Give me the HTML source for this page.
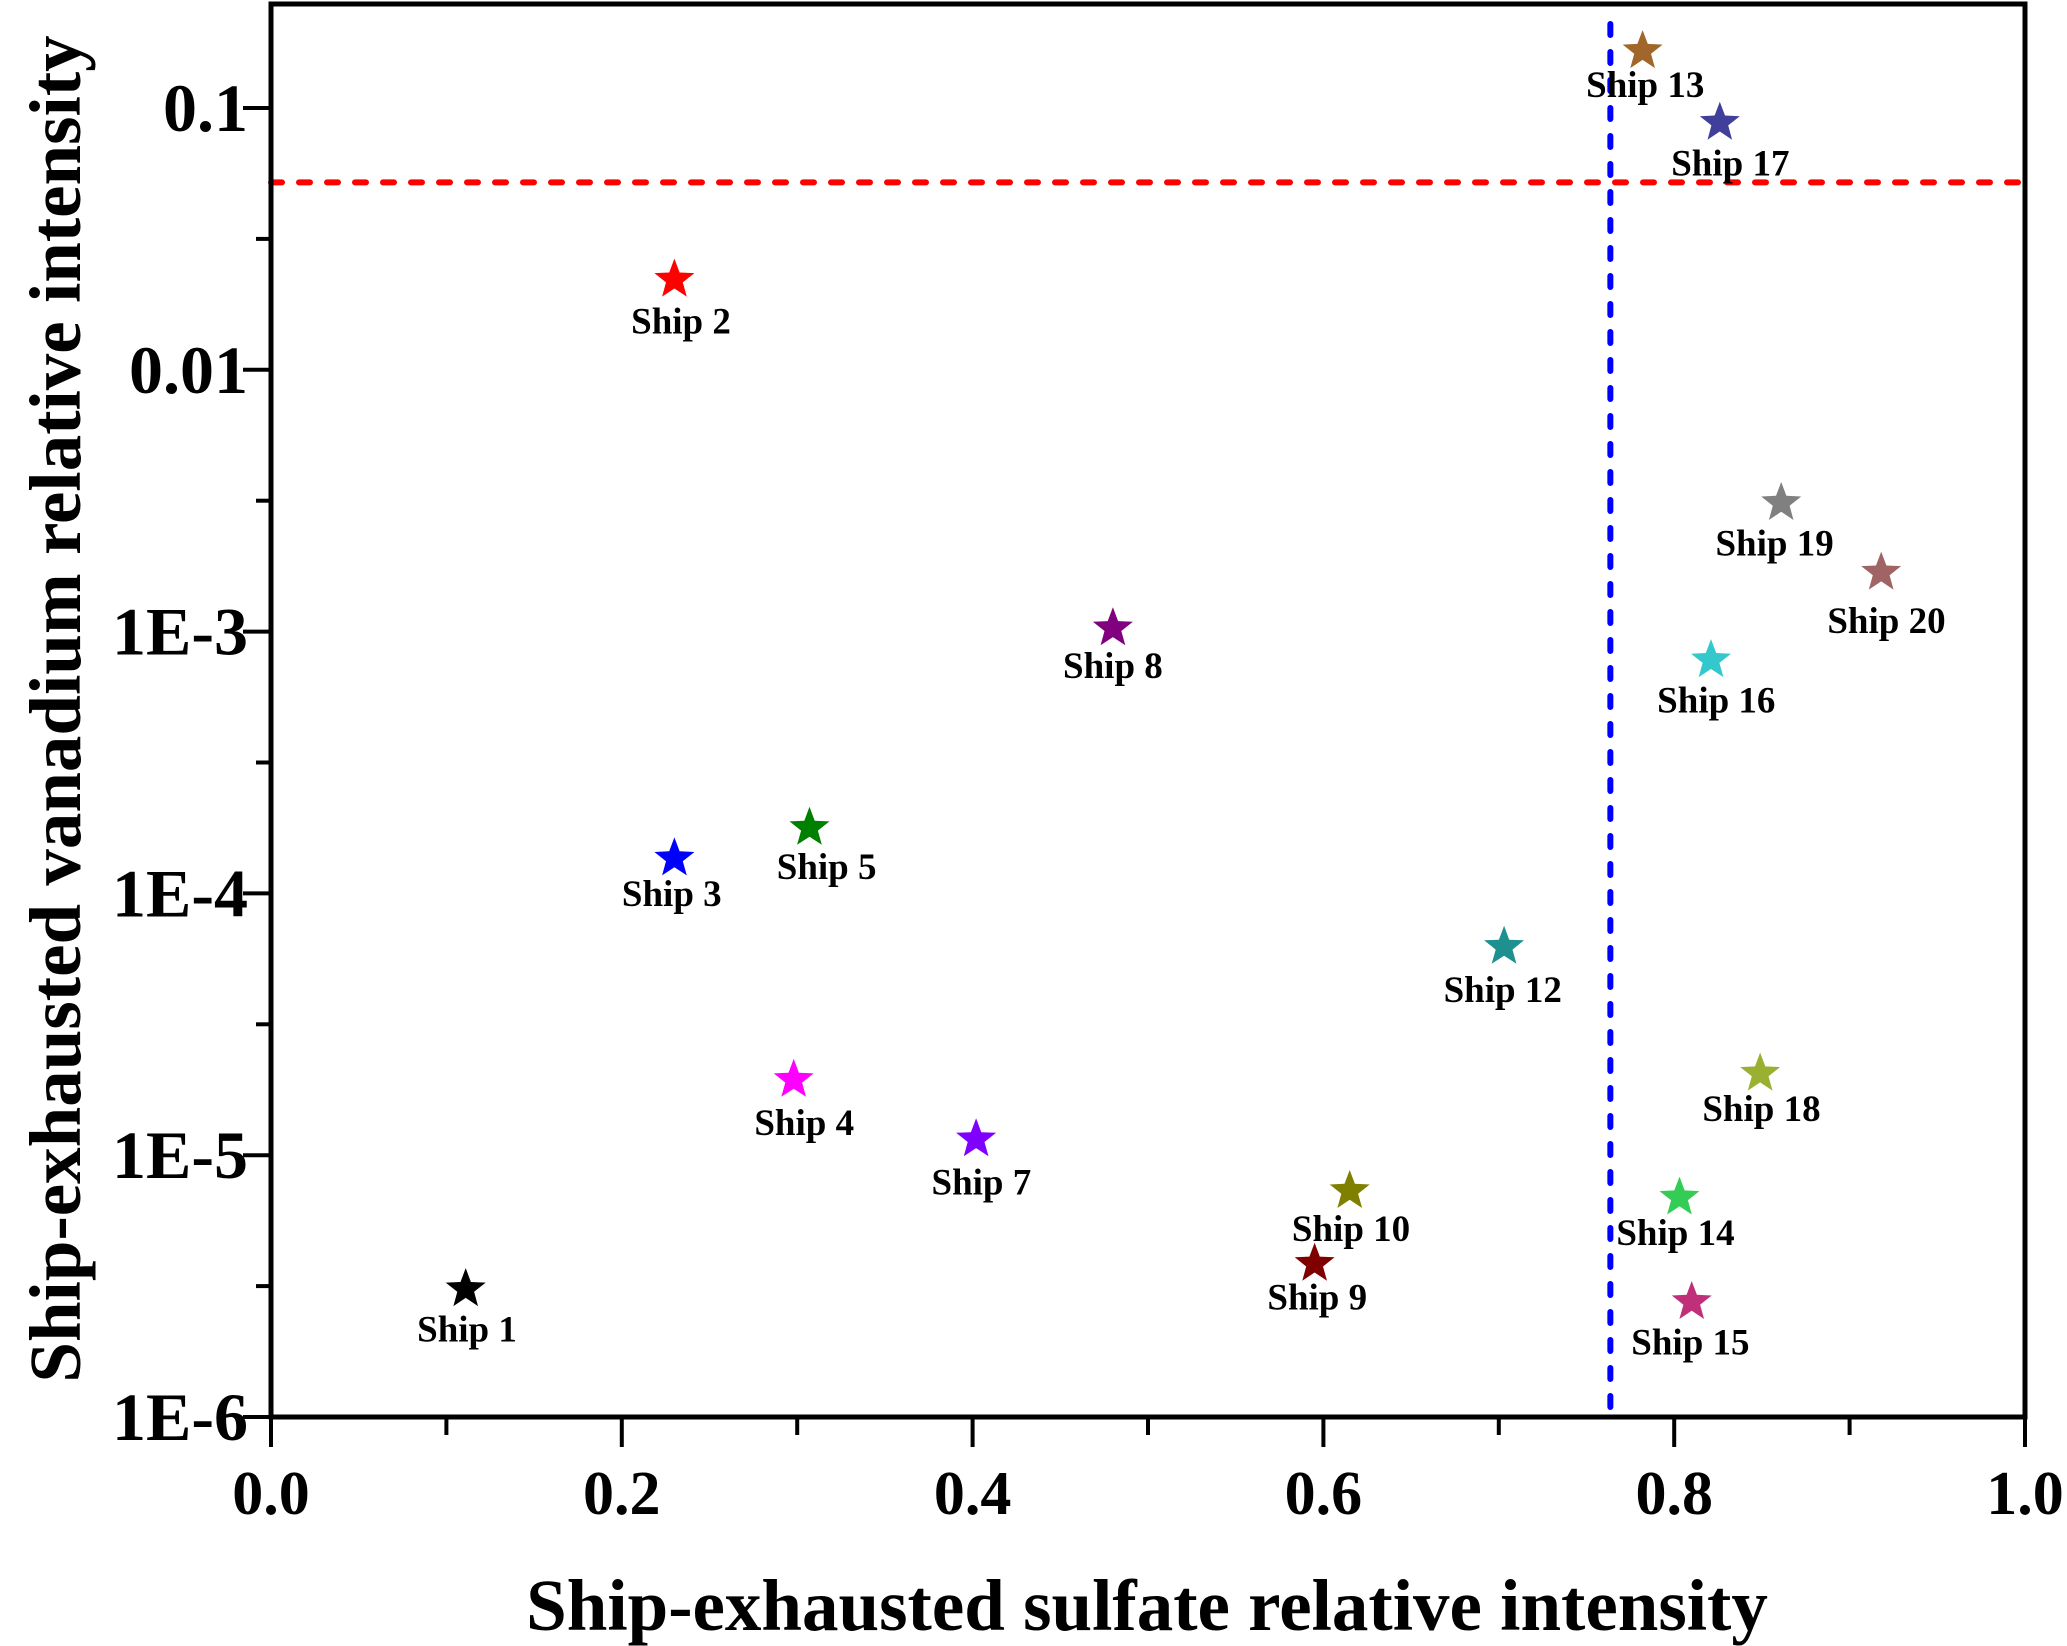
<!DOCTYPE html>
<html><head><meta charset="utf-8"><style>
html,body{margin:0;padding:0;background:#fff;}
svg{display:block;font-family:"Liberation Serif",serif;font-weight:bold;}
</style></head><body>
<svg id="chart" width="2067" height="1646" viewBox="0 0 2067 1646" xmlns="http://www.w3.org/2000/svg">
<g id="grid"></g>
<g id="marks"></g>
<g id="axes"></g>
<text x="1147" y="1630" text-anchor="middle" font-size="73">Ship-exhausted sulfate relative intensity</text>
<text transform="translate(80,709) rotate(-90)" text-anchor="middle" font-size="73">Ship-exhausted vanadium relative intensity</text>
</svg>
<script>
const names = ["Ship 1","Ship 2","Ship 3","Ship 4","Ship 5","Ship 7","Ship 8","Ship 9","Ship 10","Ship 12","Ship 13","Ship 14","Ship 15","Ship 16","Ship 17","Ship 18","Ship 19","Ship 20"];
const sulfate = [0.111,0.230,0.230,0.298,0.307,0.402,0.480,0.595,0.615,0.703,0.782,0.803,0.810,0.821,0.826,0.849,0.861,0.918];
const vanadium = [3.08e-6,0.0221,1.36e-4,1.94e-5,1.78e-4,1.15e-5,1.03e-3,3.85e-6,7.30e-6,6.25e-5,0.165,6.89e-6,2.75e-6,7.78e-4,0.0879,2.05e-5,3.10e-3,1.68e-3];
const colors = ["#000000","#ff0000","#0000ff","#ff00ff","#008000","#8000ff","#800080","#800000","#808000","#1f9090","#a0662a","#33cc55","#c0307a","#33c8cc","#40409a","#99b030","#808080","#a06464"];
const labelDx = [1,5,-2,8,13,4,0,2,1,-1,2,-3,-1,4,8,1,-5,4];
const labelDy = [30,31,26,32,29,32,28,25,28,32,25,26,30,30,30,26,30,36];
const xTicks = [0,0.2,0.4,0.6,0.8,1.0];
const xTickLabels = ["0.0","0.2","0.4","0.6","0.8","1.0"];
const yTicks = [1e-6,1e-5,1e-4,1e-3,0.01,0.1];
const yTickLabels = ["1E-6","1E-5","1E-4","1E-3","0.01","0.1"];
const sulfateThreshold = 0.7636;
const vanadiumThreshold = 0.052;

const L=271,R=2025,T=4,B=1417;
const yMinLog=-6, decade=261.8;
const sx = v => L + v*(R-L);
const sy = v => B - (Math.log10(v)-yMinLog)*decade;
const NS="http://www.w3.org/2000/svg";
function mk(tag, attrs, parent){const e=document.createElementNS(NS,tag);for(const k in attrs)e.setAttribute(k,attrs[k]);parent.appendChild(e);return e;}
const marks=document.getElementById('marks'), axes=document.getElementById('axes'), grid=document.getElementById('grid');

let hl=mk('line',{x1:L,x2:R,y1:sy(vanadiumThreshold),y2:sy(vanadiumThreshold),stroke:'#ff0000','stroke-width':6,'stroke-dasharray':'11 17','stroke-linecap':'round'},grid);


let vl=mk('line',{x1:sx(sulfateThreshold),x2:sx(sulfateThreshold),y1:T+20,y2:B-5,stroke:'#0000ff','stroke-width':6,'stroke-dasharray':'11 17','stroke-linecap':'round'},grid);



function star(cx,cy,r){const pts=[];for(let i=0;i<10;i++){const a=-Math.PI/2+i*Math.PI/5;const rr=i%2?r*0.42:r;pts.push((cx+rr*Math.cos(a)).toFixed(1)+','+(cy+rr*Math.sin(a)).toFixed(1));}return pts.join(' ');}
names.forEach((n,i)=>{
  const cx=sx(sulfate[i]), cy=sy(vanadium[i]);
  const p=mk('polygon',{points:star(cx,cy,21),fill:colors[i]},marks);
  
  
  const t=mk('text',{x:cx+labelDx[i]*1.32,y:cy+labelDy[i]*1.32+13,'text-anchor':'middle','font-size':37,fill:'#000'},marks);
  t.textContent=n;
  
  
});

const fr=mk('rect',{x:L,y:T,width:R-L,height:B-T,fill:'none',stroke:'#000','stroke-width':5},axes);


xTicks.forEach((v,i)=>{
  const x=sx(v);
  const tk=mk('line',{x1:x,x2:x,y1:B,y2:B+30,stroke:'#000','stroke-width':4},axes);
  
  
  const t=mk('text',{x:x,y:B+97,'text-anchor':'middle','font-size':62},axes);
  t.textContent=xTickLabels[i];
  
  
  if(i<xTicks.length-1){const xm=sx(v+0.1);
    const m=mk('line',{x1:xm,x2:xm,y1:B,y2:B+18,stroke:'#000','stroke-width':4},axes);
    
    }
});
yTicks.forEach((v,i)=>{
  const y=sy(v);
  const tk=mk('line',{x1:L-28,x2:L,y1:y,y2:y,stroke:'#000','stroke-width':4},axes);
  
  
  const t=mk('text',{x:L-23,y:y+23,'text-anchor':'end','font-size':68},axes);
  t.textContent=yTickLabels[i];
  
  
  const ym=sy(v*Math.sqrt(10));
  if(ym>T){const m=mk('line',{x1:L-15,x2:L,y1:ym,y2:ym,stroke:'#000','stroke-width':4},axes);
    
    }
});
</script>
</body></html>
